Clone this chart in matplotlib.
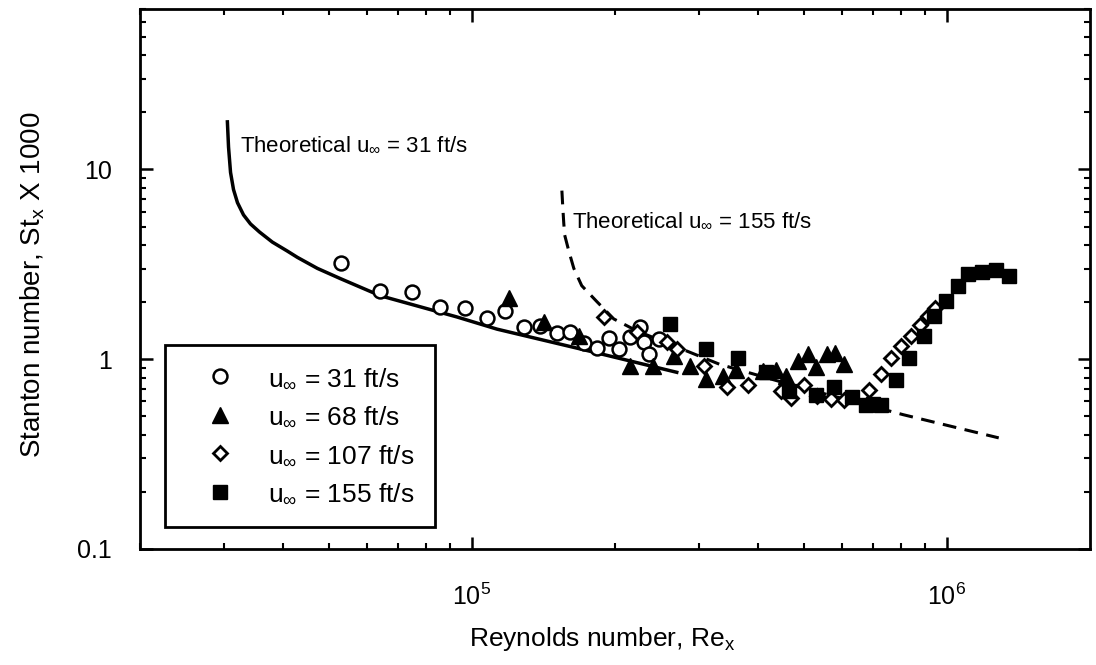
import matplotlib
matplotlib.use("Agg")
import matplotlib.pyplot as plt
from matplotlib.ticker import FixedLocator, NullFormatter

plt.rcParams["font.family"] = ["Liberation Sans", "DejaVu Sans"]
plt.rcParams["mathtext.fontset"] = "custom"
plt.rcParams["mathtext.rm"] = "Liberation Sans"
plt.rcParams["mathtext.it"] = "Liberation Sans"
plt.rcParams["mathtext.bf"] = "Liberation Sans:bold"

# theoretical curves
re_theory_31 = [30550, 30720, 31020, 31470, 32080, 33030, 34170, 35690, 37990, 40870,
                42890, 47250, 52800, 64100, 92900, 112900, 180300, 269800]
st_theory_31 = [17.8, 13.1, 9.64, 7.83, 6.68, 5.76, 5.16, 4.68, 4.14, 3.71,
                3.44, 3.01, 2.66, 2.16, 1.67, 1.44, 1.09, 0.853]

re_theory_155 = [154600, 155300, 156000, 156700, 159900, 163800, 170200, 183200,
                 198800, 222300, 269800, 332100, 481700, 809000, 1285000]
st_theory_155 = [7.73, 6.28, 5.23, 4.51, 3.71, 3.01, 2.44, 2.01,
                 1.63, 1.41, 1.16, 0.94, 0.72, 0.51, 0.385]

# measurements
re_31 = [53050, 64060, 74820, 85660, 96670, 107500, 117300, 128600, 139000, 150900,
         160700, 171900, 183100, 194000, 203600, 214800, 225400, 229800, 235400, 247200]
st_31 = [3.20, 2.30, 2.27, 1.89, 1.87, 1.65, 1.80, 1.48, 1.50, 1.37,
         1.39, 1.22, 1.14, 1.29, 1.13, 1.31, 1.48, 1.23, 1.06, 1.28]

re_68 = [119600, 141700, 167900, 214800, 240000, 265800, 287100, 311600, 338300, 360300,
         410700, 437300, 458900, 486400, 510500, 530600, 559700, 581700, 607600]
st_68 = [2.11, 1.57, 1.33, 0.918, 0.918, 1.04, 0.918, 0.783, 0.812, 0.874,
         0.863, 0.874, 0.812, 0.976, 1.06, 0.906, 1.06, 1.08, 0.941]

re_107 = [189400, 222200, 256900, 269700, 307300, 343400, 381900, 448100, 470100, 500700,
          533200, 570600, 607600, 685600, 726500, 762700, 800500, 840300, 877700, 912400, 943600]
st_107 = [1.67, 1.39, 1.23, 1.13, 0.918, 0.718, 0.727, 0.676, 0.628, 0.727,
          0.643, 0.620, 0.613, 0.692, 0.832, 1.02, 1.17, 1.33, 1.52, 1.69, 1.87]

re_155 = [260600, 311600, 363800, 416700, 465600, 530600, 579000, 631700, 675700, 700000,
          726500, 781500, 832200, 894600, 939100, 995200, 1054500, 1106800, 1184500,
          1267000, 1350000]
st_155 = [1.54, 1.13, 1.02, 0.853, 0.676, 0.651, 0.710, 0.636, 0.576, 0.580,
          0.576, 0.773, 1.02, 1.33, 1.69, 2.03, 2.44, 2.80, 2.87,
          2.94, 2.76]

fig = plt.figure(figsize=(10.96, 6.65), dpi=100)
ax = fig.add_axes([140 / 1096, 1 - 549 / 665, 950 / 1096, 540 / 665])
ax.set_xscale("log")
ax.set_yscale("log")

ax.plot(re_theory_31, st_theory_31, color="black", lw=2.5, zorder=2)
ax.plot(re_theory_155, st_theory_155, color="black", lw=2.2, ls=(0, (4.5, 2.8)), zorder=2)

ax.plot(re_31, st_31, ls="none", marker="o", ms=10, mfc="white", mec="black", mew=1.8,
        label=r"u$_{\infty}$ = 31 ft/s", zorder=3)
ax.plot(re_68, st_68, ls="none", marker="^", ms=11, mfc="black", mec="black", mew=1,
        label=r"u$_{\infty}$ = 68 ft/s", zorder=3)
ax.plot(re_107, st_107, ls="none", marker="D", ms=7, mfc="white", mec="black", mew=2,
        label=r"u$_{\infty}$ = 107 ft/s", zorder=3)
ax.plot(re_155, st_155, ls="none", marker="s", ms=10, mfc="black", mec="black", mew=1,
        label=r"u$_{\infty}$ = 155 ft/s", zorder=3)

ax.text(32400, 13.4, r"Theoretical u$_{\infty}$ = 31 ft/s", fontsize=16, va="center", ha="left")
ax.text(162200, 5.35, r"Theoretical u$_{\infty}$ = 155 ft/s", fontsize=16, va="center", ha="left")

ax.set_xlim(2e4, 2e6)
ax.set_ylim(0.1, 70)

ax.xaxis.set_major_locator(FixedLocator([1e5, 1e6]))
ax.set_xticklabels([r"$10^5$", r"$10^6$"])
xminor = [k * 10 ** e for e in (4, 5) for k in range(2, 10)]
ax.xaxis.set_minor_locator(FixedLocator(xminor))
ax.xaxis.set_minor_formatter(NullFormatter())

ax.yaxis.set_major_locator(FixedLocator([0.1, 1, 10]))
ax.set_yticklabels(["0.1", "1", "10"])
yminor = [k * 10 ** e for e in (-1, 0) for k in range(2, 10)] + [20, 30, 40, 50, 60, 70]
ax.yaxis.set_minor_locator(FixedLocator(yminor))
ax.yaxis.set_minor_formatter(NullFormatter())

ax.tick_params(which="both", direction="in", top=True, right=True, labelsize=18)
ax.tick_params(which="major", length=9, width=1.8)
ax.tick_params(which="minor", length=4.5, width=1.5)
ax.tick_params(axis="x", which="major", pad=25)
ax.tick_params(axis="y", which="major", pad=20)

for sp in ax.spines.values():
    sp.set_linewidth(2)

ax.set_xlabel(r"Reynolds number, Re$_x$", fontsize=19)
ax.set_ylabel(r"Stanton number, St$_x$ X 1000", fontsize=20)
ax.xaxis.set_label_coords(0.487, -0.14)
ax.yaxis.set_label_coords(-0.098, 0.49)

leg = ax.legend(loc="lower left", bbox_to_anchor=(0.026, 0.0407), borderaxespad=0,
                fontsize=19, frameon=True, fancybox=False, framealpha=1,
                edgecolor="black", borderpad=0.8, labelspacing=0.55,
                handlelength=2.57, handletextpad=0.53, numpoints=1)
leg.get_frame().set_linewidth(2)

fig.savefig("out.png", dpi=100)
